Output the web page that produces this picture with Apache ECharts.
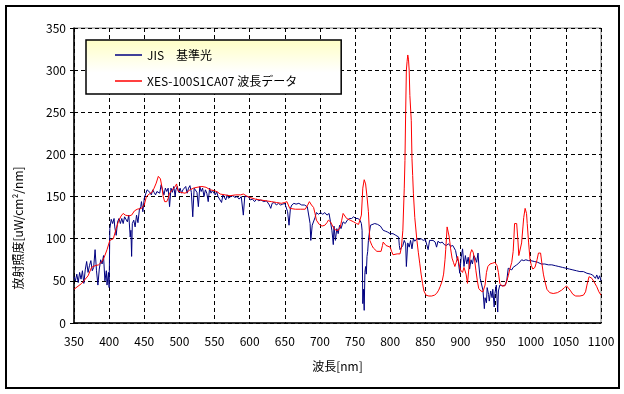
<!DOCTYPE html>
<html>
<head>
<meta charset="utf-8">
<script src="https://cdn.jsdelivr.net/npm/echarts@6/dist/echarts.min.js"></script>
<style>
html,body{margin:0;padding:0;background:#fff;}
#chart{width:624px;height:394px;}
</style>
</head>
<body>
<div id="chart"></div>
<script>
const xTicks = [350,400,450,500,550,600,650,700,750,800,850,900,950,1000,1050,1100];
const yTicks = [0,50,100,150,200,250,300,350];
const seriesNames = ['JIS\u3000基準光', 'XES-100S1CA07 波長データ'];

const blueNm = [350,352,354,356,358,360,362,364,366,368,370,372,374,376,378,380,382,384,386,388,390,392,394,396,397,399,400,401,403,405,407,408,410,412,414,416,418,420,422,424,426,428,430,431,432,433,435,437,439,441,443,445,446,448,450,452,454,456,458,460,462,464,466,468,470,472,474,476,478,480,482,484,486,488,490,492,494,495,497,499,501,503,505,507,509,511,513,515,517,519,521,523,525,527,529,531,533,535,537,539,541,543,545,547,549,551,553,555,557,560,562,564,566,568,570,573,576,579,582,585,588,591,593,595,598,601,604,607,610,613,616,620,624,628,630,632,635,638,641,644,647,650,652,654,656,658,660,663,666,670,674,678,682,684,686,687,689,691,693,695,698,701,704,707,710,713,715,717,718,719,720,722,724,726,728,730,733,736,739,742,745,748,751,754,757,759,760,761,762,763,764,765,766,767,768,769,770,772,774,778,782,786,788,790,793,796,800,804,808,812,813,814,816,818,820,822,823,825,827,829,831,833,835,838,841,844,847,850,852,854,856,858,861,864,866,868,871,874,877,880,883,886,889,891,893,895,897,899,901,903,905,907,909,911,913,915,917,919,921,923,925,926,928,930,932,934,935,937,938,940,941,943,945,946,948,949,951,953,954,956,958,960,962,964,966,968,970,973,975,977,980,983,985,987,990,993,997,1000,1005,1010,1015,1020,1025,1030,1035,1040,1045,1050,1055,1060,1065,1070,1075,1080,1085,1088,1090,1092,1094,1096,1098,1100];
const blueVal = [55,50,58,48,60,52,62,47,63,73,60,68,74,62,66,87,62,45,64,75,70,80,50,62,45,60,42,112,123,118,124,114,104,120,124,118,124,118,126,124,120,128,102,110,79,118,122,114,128,119,134,138,144,132,148,150,158,160,155,152,158,155,152,156,158,154,164,158,152,160,156,160,138,160,155,162,150,158,162,155,160,154,158,156,162,154,160,163,155,126,160,162,155,138,162,156,160,150,158,154,144,160,154,157,155,152,156,150,148,143,152,150,146,152,148,150,151,149,150,147,150,128,150,149,150,146,147,144,147,145,146,144,145,140,136,142,143,140,142,140,141,142,140,132,116,136,140,142,141,142,140,140,138,136,118,98,116,114,125,131,129,131,129,131,128,130,120,110,102,93,115,98,112,106,116,112,120,118,122,124,124,126,124,124,122,118,110,23,40,15,60,67,58,79,85,98,105,116,118,118,117,115,113,110,109,108,106,106,104,102,92,87,85,92,98,94,67,95,90,98,88,100,97,100,99,100,98,99,98,87,98,97,98,96,90,97,95,96,93,92,94,91,92,90,86,77,73,59,78,88,67,80,70,78,64,75,70,80,77,72,83,70,53,55,39,17,30,24,42,34,26,38,30,40,19,35,45,13,38,45,47,44,46,45,51,65,67,63,66,68,69,71,73,75,74,75,74,74,73,72,70,70,69,69,68,67,66,65,64,63,62,61,61,59,58,57,56,53,57,52,56,50];

const redNm = [350,352,361,370,375,380,385,390,393,397,401,406,410,413,417,420,423,428,432,436,440,446,450,453,457,461,464,467,470,473,475,477,479,482,484,486,490,494,496,498,502,508,512,515,520,525,532,538,544,550,555,558,565,572,580,587,591,595,600,608,615,623,631,638,645,650,653,655,657,665,672,679,682,685,688,691,693,695,699,703,707,710,712,715,717,720,723,726,729,731,733,735,738,743,748,752,755,757,759,761,763,764,765,767,769,771,774,776,781,787,789,790,792,794,796,800,802,804,810,814,816,818,820,821,822,823,824,825,826,827,828,830,831,832,833,835,838,840,842,844,846,848,851,855,859,863,866,869,871,874,876,878,879,880,881,882,884,886,888,890,892,894,896,898,900,903,905,908,910,912,914,916,918,920,922,924,926,929,932,935,937,939,942,946,949,952,954,956,959,963,966,968,970,973,975,976,977,979,980,982,983,985,987,989,990,992,994,995,997,999,1001,1003,1006,1009,1011,1014,1016,1018,1020,1023,1027,1032,1038,1044,1048,1051,1053,1056,1060,1064,1070,1075,1078,1080,1083,1085,1087,1090,1094,1097,1100];
const redVal = [40,41,47,56,66,68,69,73,78,87,98,100,112,120,127,130,128,127,128,133,135,136,140,150,153,155,160,166,174,171,162,150,144,144,148,154,158,162,165,157,155,154,156,158,160,161,162,161,158,157,155,153,152,151,152,152,153,151,149,147,146,145,144,143,142,143,144,140,136,135,135,135,139,144,140,137,130,122,117,115,116,119,122,120,118,112,110,110,114,122,130,128,124,122,120,118,117,116,128,160,170,172,165,150,132,98,92,89,85,85,92,96,97,92,90,90,85,81,82,82,90,110,160,193,250,300,310,318,313,300,270,240,195,175,154,125,98,84,71,58,47,38,33,32,32,33,35,39,43,50,58,75,87,100,114,112,102,88,77,72,67,72,79,70,63,60,66,58,47,65,82,87,84,76,62,50,41,38,37,45,60,67,70,71,72,68,60,47,44,44,50,56,63,72,85,100,118,120,118,95,80,80,95,115,125,136,130,118,95,75,68,64,66,75,83,83,70,58,50,40,36,35,36,39,42,44,44,39,34,32,32,33,37,45,55,56,53,49,43,37,33];

const blueData = blueNm.map((x, i) => [x, blueVal[i]]);
const redData = redNm.map((x, i) => [x, redVal[i]]);

const FONT = '"Noto Sans CJK JP", "Liberation Sans", sans-serif';
const chart = echarts.init(document.getElementById('chart'), null, {renderer: 'canvas'});

chart.setOption({
  animation: false,
  backgroundColor: '#fff',
  grid: {left: 74, right: 23, top: 28, bottom: 71, show: true, borderColor: '#808080', borderWidth: 1, backgroundColor: 'transparent'},
  xAxis: {
    type: 'value', min: xTicks[0], max: xTicks[xTicks.length - 1], interval: 50,
    name: '波長[nm]', nameLocation: 'middle', nameGap: 37,
    nameTextStyle: {color: '#000', fontSize: 12, fontFamily: FONT},
    axisLine: {show: true, onZero: false, lineStyle: {color: '#000', width: 1.5}},
    axisTick: {show: false},
    axisLabel: {color: '#000', fontSize: 12, fontFamily: FONT, margin: 12, showMaxLabel: true, showMinLabel: true,
                formatter: v => String(v)},
    splitLine: {show: true, lineStyle: {color: '#000', type: [4, 3], width: 1}}
  },
  yAxis: {
    type: 'value', min: yTicks[0], max: yTicks[yTicks.length - 1], interval: 50,
    axisLine: {show: true, lineStyle: {color: '#000', width: 1.5}},
    axisTick: {show: true, length: 4, lineStyle: {color: '#000'}},
    axisLabel: {color: '#000', fontSize: 12, fontFamily: FONT, margin: 8, formatter: v => String(v)},
    splitLine: {show: true, lineStyle: {color: '#000', type: [4, 3], width: 1}}
  },
  legend: {
    orient: 'vertical', left: 86, top: 40,
    padding: [8, 44, 6, 29],
    itemGap: 12,
    itemWidth: 27, itemHeight: 1.5,
    icon: 'rect',
    backgroundColor: new echarts.graphic.LinearGradient(0, 0, 0, 1, [
      {offset: 0, color: '#ffffc4'}, {offset: 0.6, color: '#ffffff'}, {offset: 1, color: '#ffffff'}
    ]),
    borderColor: '#000', borderWidth: 1.5, borderRadius: 0,
    textStyle: {color: '#000', fontSize: 12, fontFamily: FONT, lineHeight: 14},
    data: seriesNames
  },
  graphic: [
    {type: 'rect', shape: {x: 6, y: 6, width: 613, height: 382}, style: {fill: 'none', stroke: '#000', lineWidth: 2}, silent: true, z: 100},
    {type: 'text', x: 18, y: 228, rotation: Math.PI / 2,
     style: {text: '放射照度[uW/cm²/nm]', fill: '#000', font: '12px ' + FONT, align: 'center', verticalAlign: 'middle'}}
  ],
  series: [
    {name: seriesNames[0], type: 'line', data: blueData, showSymbol: false, symbol: 'none',
     lineStyle: {color: '#000080', width: 1}, itemStyle: {color: '#000080'}, z: 2},
    {name: seriesNames[1], type: 'line', data: redData, showSymbol: false, symbol: 'none',
     lineStyle: {color: '#ff0000', width: 1}, itemStyle: {color: '#ff0000'}, z: 3}
  ]
});
</script>
</body>
</html>
